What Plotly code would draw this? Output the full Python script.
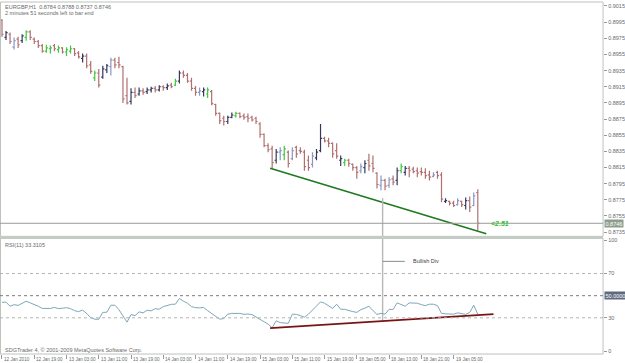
import plotly.graph_objects as go

W, H = 625, 363

# ---------------- data ----------------
opens = [0.8997,0.8976,0.8980,0.8964,0.8974,0.8972,0.8976,0.8983,0.8974,0.8971,
         0.8966,0.8959,0.8962,0.8966,0.8961,0.8963,0.8958,0.8959,0.8962,0.8957,
         0.8950,0.8953,0.8942,0.8926,0.8932,0.8927,0.8936,0.8940,0.8948,0.8945,
         0.8940,0.8904,0.8897,0.8908,0.8906,0.8910,0.8909,0.8911,0.8913,0.8911,
         0.8915,0.8914,0.8917,0.8917,0.8922,0.8932,0.8929,0.8922,0.8913,0.8908,
         0.8909,0.8906,0.8909,0.8893,0.8882,0.8876,0.8872,0.8877,0.8879,0.8882,
         0.8879,0.8878,0.8877,0.8876,0.8869,0.8856,0.8842,0.8838,0.8824,0.8834,
         0.8831,0.8834,0.8826,0.8840,0.8836,0.8834,0.8824,0.8819,0.8827,0.8836,
         0.8851,0.8848,0.8845,0.8836,0.8824,0.8821,0.8824,0.8819,0.8815,0.8811,
         0.8815,0.8824,0.8820,0.8808,0.8793,0.8799,0.8793,0.8801,0.8799,0.8811,
         0.8809,0.8814,0.8813,0.8811,0.8810,0.8809,0.8806,0.8804,0.8809,0.8806,
         0.8773,0.8773,0.8771,0.8769,0.8773,0.8768,0.8774,0.8768,0.8784]
highs = [0.8999,0.8984,0.8982,0.8976,0.8977,0.8980,0.8985,0.8985,0.8976,0.8973,
         0.8968,0.8967,0.8966,0.8968,0.8966,0.8964,0.8964,0.8966,0.8963,0.8959,
         0.8956,0.8956,0.8947,0.8935,0.8937,0.8941,0.8943,0.8951,0.8951,0.8952,
         0.8941,0.8926,0.8913,0.8914,0.8914,0.8913,0.8914,0.8915,0.8916,0.8917,
         0.8917,0.8919,0.8920,0.8925,0.8935,0.8935,0.8932,0.8926,0.8916,0.8914,
         0.8914,0.8914,0.8911,0.8894,0.8883,0.8879,0.8879,0.8883,0.8884,0.8883,
         0.8882,0.8882,0.8879,0.8878,0.8871,0.8857,0.8845,0.8842,0.8838,0.8840,
         0.8842,0.8836,0.8840,0.8842,0.8840,0.8837,0.8830,0.8834,0.8838,0.8869,
         0.8853,0.8852,0.8846,0.8845,0.8830,0.8826,0.8826,0.8820,0.8817,0.8820,
         0.8824,0.8832,0.8830,0.8809,0.8805,0.8801,0.8803,0.8805,0.8815,0.8820,
         0.8817,0.8817,0.8816,0.8815,0.8815,0.8814,0.8811,0.8809,0.8811,0.8809,
         0.8777,0.8774,0.8774,0.8777,0.8774,0.8778,0.8779,0.8784,0.8788]
lows = [0.8977,0.8973,0.8968,0.8961,0.8963,0.8969,0.8972,0.8973,0.8968,0.8963,
        0.8957,0.8957,0.8956,0.8959,0.8957,0.8956,0.8953,0.8956,0.8953,0.8950,
        0.8945,0.8938,0.8931,0.8922,0.8914,0.8925,0.8932,0.8929,0.8938,0.8938,
        0.8895,0.8893,0.8893,0.8901,0.8904,0.8905,0.8906,0.8908,0.8908,0.8909,
        0.8910,0.8911,0.8913,0.8916,0.8919,0.8926,0.8920,0.8910,0.8904,0.8904,
        0.8903,0.8901,0.8892,0.8879,0.8869,0.8867,0.8869,0.8876,0.8877,0.8876,
        0.8874,0.8871,0.8872,0.8869,0.8852,0.8840,0.8834,0.8814,0.8820,0.8824,
        0.8824,0.8815,0.8824,0.8827,0.8832,0.8811,0.8811,0.8815,0.8824,0.8834,
        0.8846,0.8840,0.8827,0.8826,0.8817,0.8817,0.8816,0.8811,0.8801,0.8808,
        0.8808,0.8811,0.8809,0.8789,0.8787,0.8787,0.8790,0.8793,0.8793,0.8808,
        0.8805,0.8803,0.8808,0.8803,0.8805,0.8801,0.8799,0.8803,0.8801,0.8772,
        0.8771,0.8768,0.8766,0.8768,0.8766,0.8763,0.8760,0.8767,0.8737]
closes = [0.8980,0.8982,0.8971,0.8972,0.8967,0.8978,0.8983,0.8976,0.8971,0.8966,
          0.8959,0.8963,0.8963,0.8962,0.8963,0.8958,0.8961,0.8962,0.8956,0.8952,
          0.8953,0.8941,0.8934,0.8932,0.8917,0.8937,0.8941,0.8948,0.8942,0.8942,
          0.8900,0.8895,0.8908,0.8904,0.8910,0.8908,0.8911,0.8913,0.8911,0.8915,
          0.8914,0.8916,0.8915,0.8922,0.8932,0.8929,0.8922,0.8913,0.8908,0.8910,
          0.8911,0.8911,0.8894,0.8882,0.8873,0.8872,0.8877,0.8880,0.8882,0.8878,
          0.8877,0.8876,0.8874,0.8872,0.8856,0.8842,0.8837,0.8821,0.8834,0.8836,
          0.8838,0.8820,0.8836,0.8832,0.8835,0.8816,0.8815,0.8829,0.8834,0.8851,
          0.8848,0.8845,0.8832,0.8829,0.8826,0.8824,0.8820,0.8815,0.8809,0.8816,
          0.8820,0.8817,0.8814,0.8794,0.8799,0.8792,0.8800,0.8797,0.8811,0.8816,
          0.8814,0.8811,0.8810,0.8808,0.8809,0.8805,0.8803,0.8806,0.8805,0.8776,
          0.8774,0.8771,0.8768,0.8774,0.8769,0.8774,0.8766,0.8780,0.8746]
# bar colour class: r = red/down, d = dark, s = slate, g = green
bar_kind = ("rdrsrdgrrr" "rggrgrggrr" "drrgrddsrr" "rrdrdrddrd" "rdrgdrrrrs"
            "dgrrrrddgr" "rrrrrrrrds" "grsrrrrsdd" "rrrrdgrrrs" "drrrsrsrdg"
            "drrrrrrsrr" "drrsrdrsr")
rsi = [44.1,44.1,40.5,41.9,41.2,43.2,45.0,43.5,42.3,40.5,
       38.5,38.5,38.5,39.4,38.3,38.7,39.2,38.3,36.5,35.6,
       36.9,34.0,30.2,28.8,28.6,34.9,35.1,41.4,41.4,37.4,
       31.5,26.1,32.9,32.0,35.4,34.5,36.9,36.3,38.3,37.8,
       40.1,41.4,42.2,42.3,47.5,45.0,43.2,40.1,39.2,39.0,
       39.4,36.5,33.8,31.1,28.8,29.3,33.3,34.0,34.0,34.0,
       33.1,33.5,32.9,30.9,28.4,27.0,24.3,21.0,27.3,25.7,
       25.4,25.0,33.3,33.1,32.0,30.6,33.3,36.9,40.5,44.4,
       43.2,41.0,38.5,42.3,37.8,37.7,36.5,35.6,34.9,37.4,
       38.7,40.5,36.5,33.1,34.0,33.3,37.6,37.6,43.5,42.3,
       40.5,43.5,43.5,43.2,41.9,41.0,42.3,42.3,41.0,34.0,
       33.6,33.3,33.3,34.5,34.0,33.1,34.9,41.4,33.3]

price_ticks = [0.9015,0.8995,0.8975,0.8955,0.8935,0.8915,0.8895,0.8875,
               0.8855,0.8835,0.8815,0.8795,0.8775,0.8755,0.8735]
rsi_ticks = [100, 70, 30, 0]
rsi_levels = [70, 50, 30]
x_label_bars = [0,8,16,24,32,40,48,56,64,72,80,88,96,104,112]
x_labels = ["12 Jan 2010","12 Jan 19:00","13 Jan 03:00","13 Jan 11:00","13 Jan 19:00",
            "14 Jan 03:00","14 Jan 11:00","14 Jan 19:00","15 Jan 03:00","15 Jan 11:00",
            "15 Jan 19:00","18 Jan 05:00","18 Jan 13:00","18 Jan 21:00","19 Jan 05:00"]

# divergence drawings
price_trend_x = [66.5, 120.1]
price_trend_y = [0.8814, 0.8733]
rsi_trend_x = [66.5, 121.9]
rsi_trend_y = [20.7, 33.3]
div_bar = 94.4
div_price = 0.8777
div_rsi = 27.0
note_rsi = 81.0
note_x = [94.4, 99.9]

header1 = "EURGBP,H1  0.8784 0.8788 0.8737 0.8746"
header2 = "2 minutes 51 seconds left to bar end"
rsi_header = "RSI(11) 33.3105"
footer = "SDGTrader 4, \u00a9 2001-2009 MetaQuotes Software Corp."

# ---------------- layout helpers ----------------
def px(x):
    return x / W

def py(y):
    return 1 - y / H

n = len(closes)
X_RANGE = [-0.494, 149.07]
P_RANGE = [0.87298, 0.90199]
R_RANGE = [-2.7, 101.8]
XDOM = [0, px(605)]
FONT = "Liberation Sans"
TXT = "#6a6a6a"

fig = go.Figure()

colors = {"r": "#b07070", "d": "#35385c", "s": "#8b96c4", "g": "#3fc83f"}
for kind, col in colors.items():
    xs, ys = [], []
    for i in range(n):
        if bar_kind[i] != kind:
            continue
        xs += [i, i, None, i - 0.4, i, None, i, i + 0.4, None]
        ys += [lows[i], highs[i], None, opens[i], opens[i], None, closes[i], closes[i], None]
    fig.add_trace(go.Scatter(x=xs, y=ys, mode="lines", line=dict(color=col, width=1.2),
                             xaxis="x", yaxis="y", hoverinfo="skip", showlegend=False))

# green trend line on price
fig.add_trace(go.Scatter(x=price_trend_x, y=price_trend_y, mode="lines",
                         line=dict(color="#1d7a1d", width=1.6), xaxis="x", yaxis="y",
                         hoverinfo="skip", showlegend=False))
# vertical divergence marker
fig.add_trace(go.Scatter(x=[div_bar, div_bar], y=[div_price, P_RANGE[0]], mode="lines",
                         line=dict(color="#b8b8b8", width=1.4), xaxis="x", yaxis="y",
                         hoverinfo="skip", showlegend=False))
fig.add_trace(go.Scatter(x=[div_bar, div_bar], y=[R_RANGE[1], div_rsi], mode="lines",
                         line=dict(color="#b8b8b8", width=1.4), xaxis="x2", yaxis="y2",
                         hoverinfo="skip", showlegend=False))
fig.add_trace(go.Scatter(x=note_x, y=[note_rsi, note_rsi], mode="lines",
                         line=dict(color="#8a8a8a", width=1), xaxis="x2", yaxis="y2",
                         hoverinfo="skip", showlegend=False))

# RSI line
fig.add_trace(go.Scatter(x=list(range(n)), y=rsi, mode="lines",
                         line=dict(color="#7fa6ba", width=1), xaxis="x2", yaxis="y2",
                         hoverinfo="skip", showlegend=False))
# red trend line on RSI
fig.add_trace(go.Scatter(x=rsi_trend_x, y=rsi_trend_y, mode="lines",
                         line=dict(color="#7a1414", width=1.8), xaxis="x2", yaxis="y2",
                         hoverinfo="skip", showlegend=False))

shapes = []
frame_col = "#bcc4bc"
shapes.append(dict(type="rect", xref="paper", yref="paper", x0=px(0.5), x1=px(605),
                   y0=py(236), y1=py(1), line=dict(color=frame_col, width=1)))
shapes.append(dict(type="rect", xref="paper", yref="paper", x0=px(0.5), x1=px(605),
                   y0=py(354), y1=py(238), line=dict(color=frame_col, width=1)))
shapes.append(dict(type="rect", xref="paper", yref="paper", x0=px(0), x1=px(605),
                   y0=py(238), y1=py(236), line=dict(width=0), fillcolor="#c3ccc3"))
# bid line
shapes.append(dict(type="line", xref="paper", yref="y", x0=0, x1=px(605),
                   y0=closes[-1], y1=closes[-1], line=dict(color="#9a9a9a", width=1)))
for lv in rsi_levels:
    shapes.append(dict(type="line", xref="paper", yref="y2", x0=0, x1=px(605), y0=lv, y1=lv,
                       line=dict(color="#7a7a7a" if lv == 50 else "#b4b4b4", width=1,
                                 dash="dot")))

ann = []
def text(x, y, s, size=5.5, color=TXT, xanchor="left", yanchor="top", **kw):
    ann.append(dict(x=x, y=y, text=s, showarrow=False, xanchor=xanchor, yanchor=yanchor,
                    font=dict(family=FONT, size=size, color=color), **kw))

text(px(3), py(1), header1, xref="paper", yref="paper")
text(px(3), py(7.5), header2, xref="paper", yref="paper")
text(px(3), py(240), rsi_header, xref="paper", yref="paper")
text(px(3), py(345), footer, xref="paper", yref="paper")
for b, lab in zip(x_label_bars, x_labels):
    text(b, py(355), lab, size=4.6, xref="x2", yref="paper")
text(101.4, note_rsi, "Bullish Div", yanchor="middle", color="#404040", xref="x2", yref="y2")
text(120.9, closes[-1], "<b><i>&lt;2.51</i></b>", size=7, color="#33c033", yanchor="middle",
     xref="x", yref="y")
text(px(606), closes[-1], f"{closes[-1]:.4f}", color="white", yanchor="middle",
     xref="paper", yref="y", bgcolor="#8e9e8e", borderpad=0.5)
text(px(606), 50, "50.0000", color="white", yanchor="middle",
     xref="paper", yref="y2", bgcolor="#5e6a80", borderpad=0.5)

axis_common = dict(showgrid=False, zeroline=False, showline=False)
fig.update_layout(
    width=W, height=H, autosize=False,
    margin=dict(l=0, r=0, t=0, b=0),
    paper_bgcolor="white", plot_bgcolor="white",
    showlegend=False,
    xaxis=dict(domain=XDOM, range=X_RANGE, anchor="y", showticklabels=False, ticks="",
               **axis_common),
    xaxis2=dict(domain=XDOM, range=X_RANGE, anchor="y2", matches="x", showticklabels=False,
                ticks="outside", tickvals=x_label_bars, ticklen=4, tickcolor="#9a9a9a",
                tickwidth=1, **axis_common),
    yaxis=dict(domain=[py(236), py(1)], range=P_RANGE, anchor="x", side="right",
               tickvals=price_ticks, ticktext=[f"{v:.4f}" for v in price_ticks],
               ticks="outside", ticklen=3, tickcolor="#9a9a9a",
               tickfont=dict(family=FONT, size=5.5, color=TXT), **axis_common),
    yaxis2=dict(domain=[py(354), py(238)], range=R_RANGE, anchor="x2", side="right",
                tickvals=rsi_ticks, ticktext=[str(v) for v in rsi_ticks],
                ticks="outside", ticklen=3, tickcolor="#9a9a9a",
                tickfont=dict(family=FONT, size=5.5, color=TXT), **axis_common),
    shapes=shapes, annotations=ann,
)

fig.write_html("out.html", config={"displayModeBar": False})
